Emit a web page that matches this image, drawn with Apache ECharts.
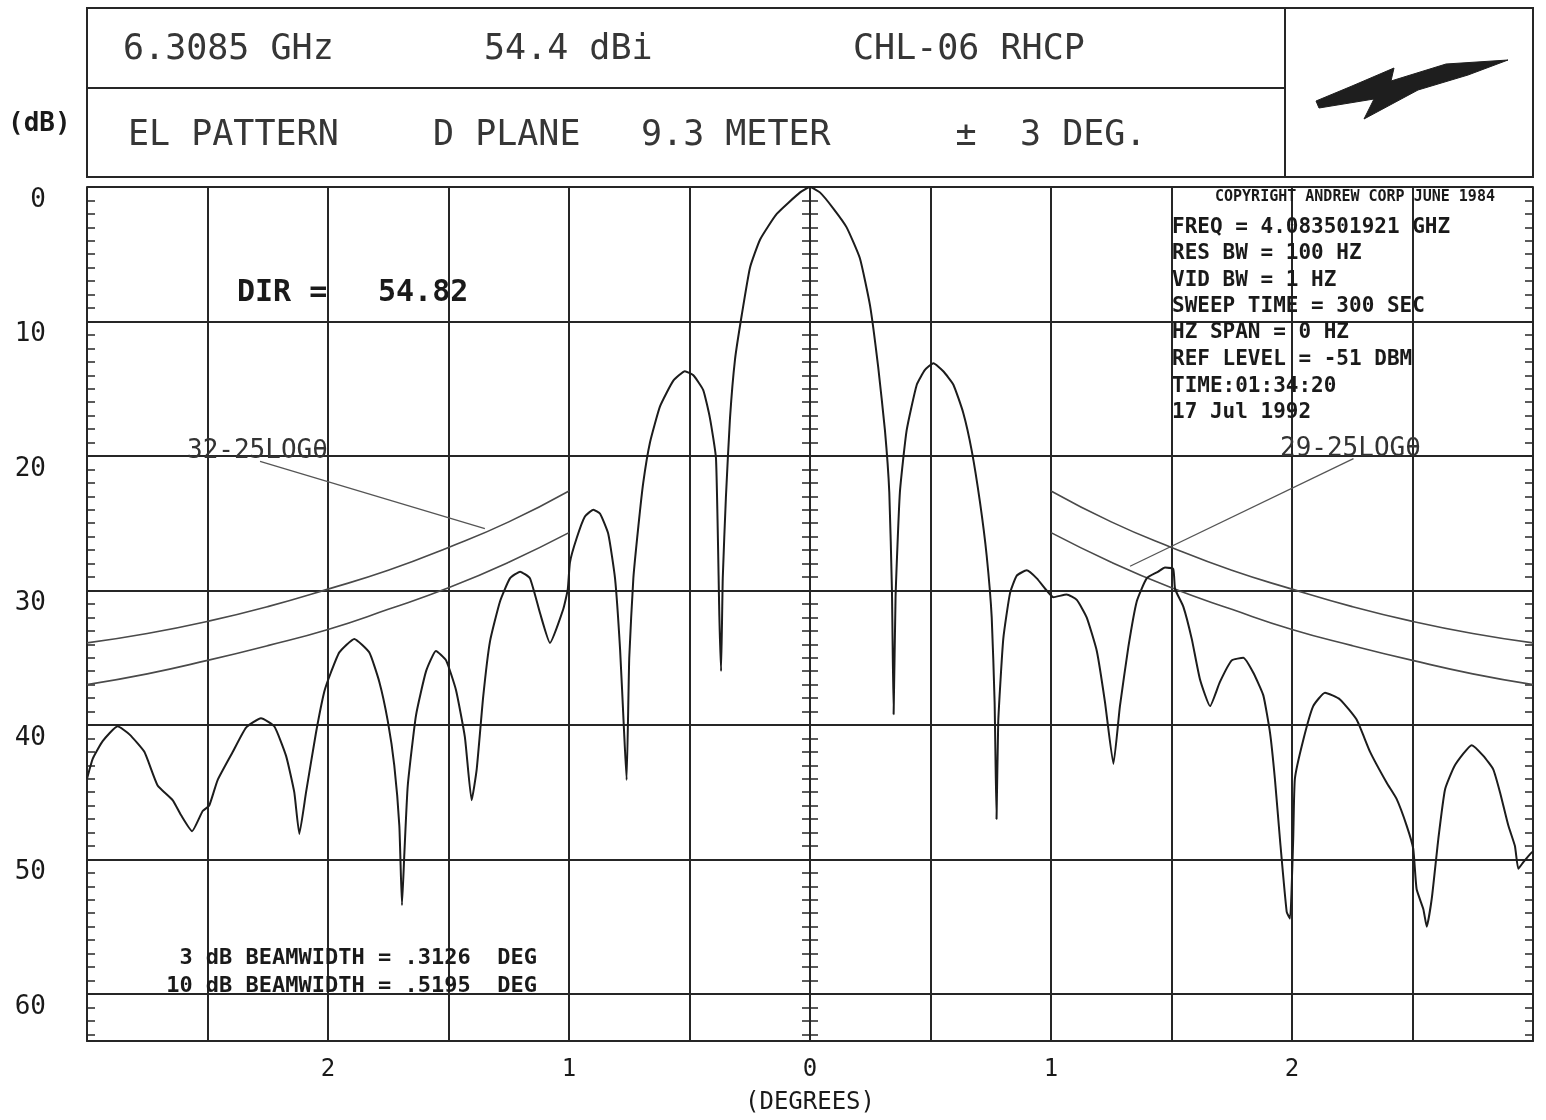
<!DOCTYPE html>
<html><head><meta charset="utf-8">
<script src="https://cdn.jsdelivr.net/npm/echarts@6/dist/echarts.min.js"></script>
<style>html,body{margin:0;padding:0;background:#fff}#c{width:1546px;height:1120px}</style>
</head><body><div id="c"></div>
<script>
// ---- measured trace (angle in degrees, level in dB below peak) ----
const angleDeg = [
-3.000,-2.976,-2.935,-2.873,-2.824,-2.762,-2.707,-2.644,-2.610,-2.564,-2.520,-2.493,-2.458,-2.395,-2.340,-2.278,-2.223,-2.174,-2.140,-2.119,
-2.091,-2.050,-2.015,-1.988,-1.953,-1.891,-1.829,-1.787,-1.752,-1.725,-1.704,-1.693,-1.683,-1.669,-1.635,-1.593,-1.552,-1.510,-1.469,-1.432,
-1.404,-1.383,-1.356,-1.328,-1.286,-1.245,-1.203,-1.162,-1.120,-1.079,-1.024,-1.005,-0.996,-0.968,-0.934,-0.899,-0.871,-0.837,-0.809,-0.788,
-0.772,-0.761,-0.750,-0.733,-0.712,-0.692,-0.664,-0.622,-0.567,-0.519,-0.484,-0.443,-0.415,-0.390,-0.376,-0.369,-0.362,-0.349,-0.332,-0.311,
-0.283,-0.249,-0.207,-0.138,-0.041,0.000,0.041,0.097,0.152,0.207,0.249,0.283,0.311,0.329,0.340,0.347,0.355,0.373,0.401,0.443,
0.477,0.512,0.553,0.595,0.636,0.671,0.705,0.733,0.754,0.766,0.774,0.781,0.802,0.830,0.858,0.899,0.941,0.982,1.010,1.065,
1.107,1.148,1.190,1.224,1.259,1.286,1.321,1.356,1.397,1.445,1.473,1.507,1.515,1.549,1.584,1.618,1.660,1.701,1.750,1.798,
1.839,1.881,1.909,1.929,1.950,1.978,1.992,2.005,2.012,2.047,2.088,2.137,2.199,2.268,2.324,2.393,2.434,2.476,2.503,2.517,
2.545,2.559,2.580,2.607,2.635,2.676,2.746,2.794,2.835,2.863,2.898,2.925,2.939,2.960,2.988,3.000];
const levelDb = [
44.0,42.5,41.2,40.1,40.7,42.0,44.5,45.6,46.7,47.9,46.4,46.0,44.1,42.0,40.2,39.5,40.1,42.3,45.0,48.1,
45.0,40.6,37.5,36.1,34.6,33.6,34.6,36.8,39.7,43.0,47.5,53.4,49.5,44.5,39.3,36.0,34.5,35.2,37.4,40.9,
45.6,43.3,37.9,33.8,30.8,29.1,28.6,29.1,31.7,33.9,31.4,29.9,27.9,26.1,24.5,24.0,24.3,25.8,29.1,34.4,
40.3,44.1,35.0,29.1,25.2,22.0,19.0,16.3,14.4,13.7,14.0,15.1,17.2,20.2,32.0,36.0,29.1,23.1,17.2,12.8,
9.5,6.0,3.9,2.0,0.4,0.0,0.4,1.6,3.0,5.3,8.8,13.4,18.1,22.7,30.0,39.2,30.5,22.7,18.1,14.7,
13.6,13.1,13.7,14.7,16.8,19.6,23.4,27.4,32.0,38.3,47.0,39.8,33.6,30.2,28.9,28.5,29.1,30.0,30.5,30.3,
30.7,32.0,34.5,38.3,42.9,38.6,34.2,30.8,29.1,28.6,28.3,28.4,29.9,31.2,33.6,36.6,38.6,36.8,35.2,35.0,
36.1,37.8,40.6,44.0,48.5,53.9,54.4,48.5,44.0,41.1,38.6,37.6,38.1,39.6,42.0,44.3,45.5,47.5,49.2,52.2,
53.7,55.0,52.9,48.5,44.8,43.0,41.5,42.3,43.3,45.0,47.5,49.0,50.7,50.2,49.6,49.4];

// ---- envelope curves, symmetric about boresight ----
const envAngle = [1.0, 1.25, 1.5, 1.75, 2.0, 2.25, 2.5, 2.75, 3.0];
const env32 = [22.6, 24.9, 26.8, 28.5, 29.9, 31.2, 32.3, 33.2, 33.9];
const env29 = [25.7, 27.9, 29.8, 31.4, 32.9, 34.1, 35.2, 36.2, 37.0];

// ---- leader lines from envelope labels ----
const leaderLeft = [[-2.282, 20.4], [-1.349, 25.4]];
const leaderRight = [[2.255, 20.2], [1.328, 28.2]];

// ---- axis labels ----
const xLabelValues = [-2, -1, 0, 1, 2];
const yLabelValues = [0, 10, 20, 30, 40, 50, 60];
const Y_MAX = 63.5;

const FONT = '"DejaVu Sans Mono", "Liberation Mono", monospace';
const INK = '#262626';

const chart = echarts.init(document.getElementById('c'));

function tickAxis(pos, inside, onZero, showLine) {
  return {
    type: 'value', inverse: true, min: 0, max: Y_MAX, interval: 1, position: pos,
    axisLabel: { show: false }, splitLine: { show: false },
    axisLine: onZero ? { show: false, onZero: true, onZeroAxisIndex: 0 }
                     : { show: showLine, onZero: false, lineStyle: { color: INK, width: 2 } },
    axisTick: { show: true, inside: inside, length: 8, lineStyle: { color: INK, width: 1.5 } }
  };
}

function txt(text, x, y, size, opts) {
  opts = opts || {};
  return {
    type: 'text', z: 100, silent: true,
    style: {
      text: text, x: x, y: y,
      font: (opts.weight || 'normal') + ' ' + size + 'px ' + FONT,
      fill: opts.color || '#363636',
      align: opts.align || 'left', textAlign: opts.align || 'left',
      verticalAlign: 'middle', textVerticalAlign: 'middle'
    }
  };
}

const trace = angleDeg.map((a, i) => [a, levelDb[i]]);
const envL32 = envAngle.map((a, i) => [-a, env32[i]]);
const envL29 = envAngle.map((a, i) => [-a, env29[i]]);
const envR32 = envAngle.map((a, i) => [a, env32[i]]);
const envR29 = envAngle.map((a, i) => [a, env29[i]]);

const lineBase = { type: 'line', showSymbol: false, symbol: 'none', silent: true, animation: false, xAxisIndex: 0, yAxisIndex: 0 };

const infoLines = ['FREQ = 4.083501921 GHZ', 'RES BW = 100 HZ', 'VID BW = 1 HZ', 'SWEEP TIME = 300 SEC',
  'HZ SPAN = 0 HZ', 'REF LEVEL = -51 DBM', 'TIME:01:34:20', '17 Jul 1992'];
const infoY = [228, 254, 281, 307, 333, 360, 387, 413];

const graphics = [
  { type: 'rect', shape: { x: 87, y: 8, width: 1446, height: 169 }, style: { fill: 'none', stroke: INK, lineWidth: 2 } },
  { type: 'line', shape: { x1: 87, y1: 88, x2: 1285, y2: 88 }, style: { stroke: INK, lineWidth: 2 } },
  { type: 'line', shape: { x1: 1285, y1: 8, x2: 1285, y2: 177 }, style: { stroke: INK, lineWidth: 2 } },
  { type: 'polygon', shape: { points: [[1316,101],[1352,86],[1394,68],[1391,81],[1446,64],[1508,60],[1468,75],[1418,90],[1364,119],[1374,99],[1319,108]] },
    style: { fill: '#1e1e1e', stroke: '#1e1e1e', lineWidth: 1 } },
  txt('6.3085 GHz', 123, 50, 35),
  txt('54.4 dBi', 484, 50, 35),
  txt('CHL-06 RHCP', 853, 50, 35),
  txt('EL PATTERN', 128, 136, 35),
  txt('D PLANE', 433, 136, 35),
  txt('9.3 METER', 641, 136, 35),
  txt('±', 966, 136, 35, { align: 'center' }),
  txt('3 DEG.', 1020, 136, 35),
  txt('(dB)', 8, 124, 26, { weight: 'bold', color: '#1a1a1a' }),
  txt('DIR =', 237, 293, 30, { weight: 'bold', color: '#1a1a1a' }),
  txt('54.82', 378, 293, 30, { weight: 'bold', color: '#1a1a1a' }),
  txt('32-25LOGθ', 187, 451, 26, { color: '#333' }),
  txt('29-25LOGθ', 1280, 449, 26, { color: '#333' }),
  txt('3 dB BEAMWIDTH = .3126  DEG', 537, 958, 22, { align: 'right', weight: 'bold', color: '#1a1a1a' }),
  txt('10 dB BEAMWIDTH = .5195  DEG', 537, 986, 22, { align: 'right', weight: 'bold', color: '#1a1a1a' }),
  txt('COPYRIGHT ANDREW CORP JUNE 1984', 1215, 197, 15, { weight: 'bold', color: '#1a1a1a' })
].concat(infoLines.map((t, i) => txt(t, 1172, infoY[i], 21, { weight: 'bold', color: '#1a1a1a' })));

chart.setOption({
  animation: false,
  backgroundColor: '#ffffff',
  grid: { left: 87, right: 13, top: 187, bottom: 79, containLabel: false, outerBoundsMode: 'none' },
  xAxis: {
    type: 'value', min: -3, max: 3, interval: 0.5, position: 'bottom',
    axisLine: { show: true, onZero: false, lineStyle: { color: INK, width: 2 } },
    axisTick: { show: false },
    splitLine: { show: true, lineStyle: { color: INK, width: 2 } },
    axisLabel: {
      margin: 17, fontFamily: FONT, fontSize: 24, color: '#1a1a1a',
      formatter: v => xLabelValues.some(t => Math.abs(t - v) < 1e-9) ? String(Math.abs(Math.round(v))) : ''
    },
    name: '(DEGREES)', nameLocation: 'middle', nameGap: 50,
    nameTextStyle: { fontFamily: FONT, fontSize: 24, color: '#1a1a1a' }
  },
  yAxis: [
    {
      type: 'value', inverse: true, min: 0, max: Y_MAX, interval: 10, position: 'left',
      axisLine: { show: true, onZero: false, lineStyle: { color: INK, width: 2 } },
      axisTick: { show: false },
      splitLine: { show: true, lineStyle: { color: INK, width: 2 } },
      axisLabel: {
        margin: 41, fontFamily: FONT, fontSize: 26, color: '#1a1a1a', verticalAlign: 'top',
        formatter: v => yLabelValues.some(t => Math.abs(t - v) < 1e-9) ? String(Math.round(v)) : ''
      }
    },
    tickAxis('left', true, false, false),
    tickAxis('right', true, false, true),
    tickAxis('left', true, true, false),
    tickAxis('left', false, true, false)
  ],
  series: [
    Object.assign({}, lineBase, { name: 'pattern', data: trace, smooth: 0.15, z: 5,
      lineStyle: { color: '#1c1c1c', width: 2 } }),
    Object.assign({}, lineBase, { name: 'L 32-25logθ', data: envL32, smooth: true, z: 4, lineStyle: { color: '#4a4a4a', width: 1.6 } }),
    Object.assign({}, lineBase, { name: 'L 29-25logθ', data: envL29, smooth: true, z: 4, lineStyle: { color: '#4a4a4a', width: 1.6 } }),
    Object.assign({}, lineBase, { name: 'R 32-25logθ', data: envR32, smooth: true, z: 4, lineStyle: { color: '#4a4a4a', width: 1.6 } }),
    Object.assign({}, lineBase, { name: 'R 29-25logθ', data: envR29, smooth: true, z: 4, lineStyle: { color: '#4a4a4a', width: 1.6 } }),
    Object.assign({}, lineBase, { name: 'leader L', data: leaderLeft, z: 4, lineStyle: { color: '#555', width: 1.3 } }),
    Object.assign({}, lineBase, { name: 'leader R', data: leaderRight, z: 4, lineStyle: { color: '#555', width: 1.3 } })
  ],
  graphic: graphics
});
</script>
</body></html>
